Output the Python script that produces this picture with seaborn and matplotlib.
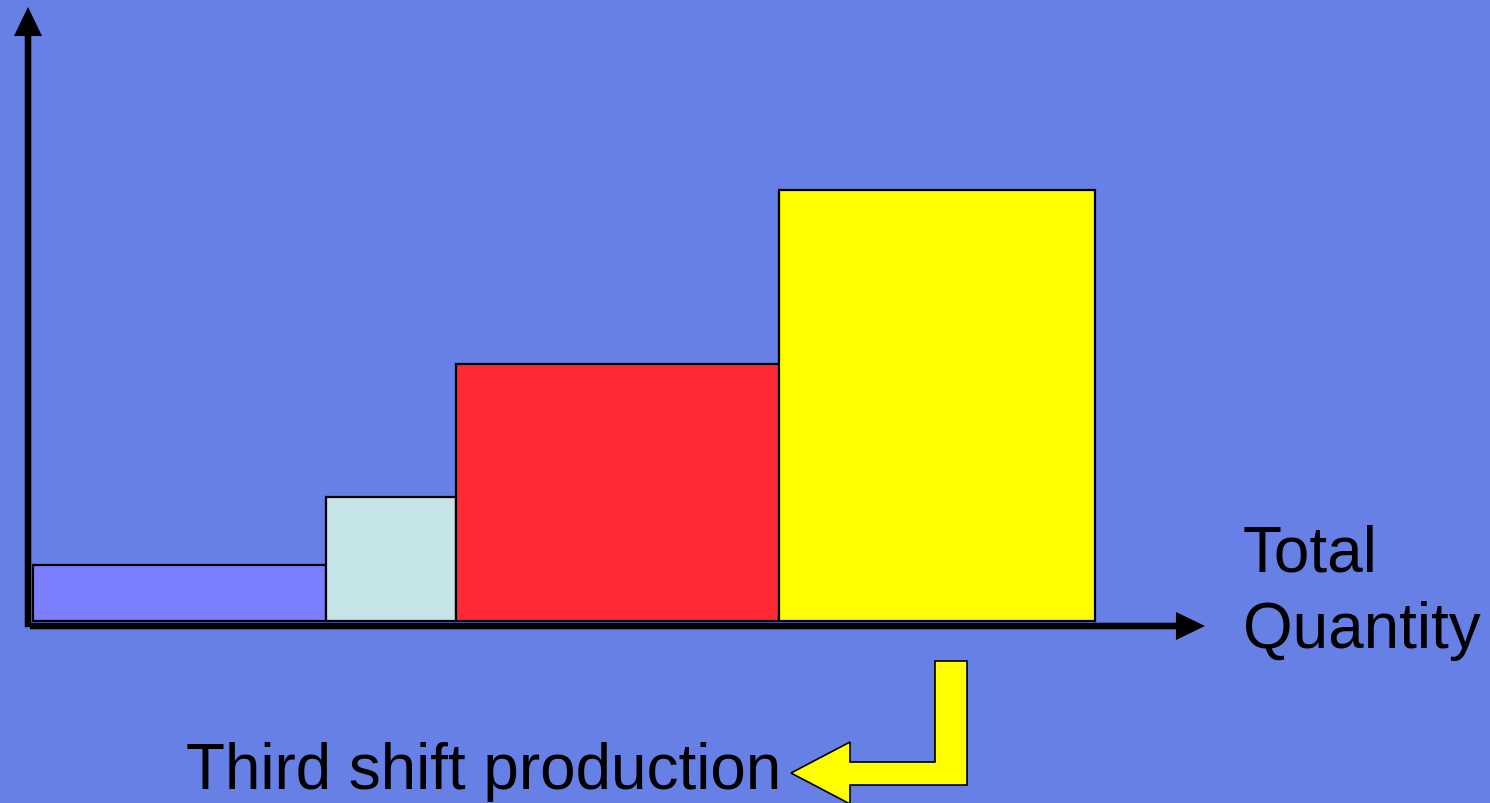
import matplotlib
matplotlib.use('Agg')
import matplotlib.pyplot as plt
import seaborn as sns
import numpy as np
import pandas as pd
from matplotlib.patches import Polygon

# Chart data: each bar's width is its quantity, height its rate
categories = ['First shift', 'Overtime', 'Second shift', 'Third shift']
widths = [2.93, 1.30, 3.23, 3.16]
heights = [0.56, 1.24, 2.57, 4.31]
bar_colors = ['#7B7FFF', '#C5E4E8', '#FF2A36', '#FFFF00']

x_label = 'Total\nQuantity'
note_text = 'Third shift production'

bg = '#6680E6'
W, H = 1490, 804

sns.set_theme(style='white')
plt.rcParams['font.family'] = ['Liberation Sans', 'DejaVu Sans']
plt.rcParams['text.color'] = 'black'

edges = [0.0] + list(np.cumsum(widths))
df = pd.DataFrame({'category': categories, 'height': heights,
                   'center': [(a + b) / 2 for a, b in zip(edges[:-1], edges[1:])]})

fig = plt.figure(figsize=(W / 100, H / 100), dpi=100)
fig.patch.set_facecolor(bg)
ax = fig.add_axes([28 / W, 177 / H, 1177 / W, 619 / H])
ax.set_facecolor(bg)

sns.histplot(data=df, x='center', weights='height', bins=edges, stat='count',
             alpha=1, edgecolor='black', linewidth=1.6, ax=ax)
for patch, c in zip(ax.patches, bar_colors):
    patch.set_facecolor(c)

ax.set_xlim(-0.05, 11.72)
ax.set_ylim(-0.05, 6.14)
ax.set_xlabel('')
ax.set_ylabel('')
ax.set_xticks([])
ax.set_yticks([])
for s in ax.spines.values():
    s.set_visible(False)

# axis arrows (filled, sharp heads)
arrow = dict(arrowstyle='simple,head_length=2.09,head_width=2.02,tail_width=0.47',
             lw=0, color='black', shrinkA=0, shrinkB=0, mutation_scale=10)
ax.annotate('', xy=(0, 1), xytext=(0, -0.002), xycoords='axes fraction',
            textcoords='axes fraction', arrowprops=arrow, annotation_clip=False)
ax.annotate('', xy=(1, 0), xytext=(0.0017, 0), xycoords='axes fraction',
            textcoords='axes fraction', arrowprops=arrow, annotation_clip=False)

# axis title on the right
lines = x_label.split('\n')
fig.text(1243 / W, 1 - 572 / H, lines[0], fontsize=46, ha='left', va='baseline',
         color='black')
fig.text(1243 / W, 1 - 648 / H, lines[1], fontsize=46, ha='left', va='baseline',
         color='black')

# note with bent arrow pointing at it
fig.text(186 / W, 1 - 789 / H, note_text, fontsize=46, ha='left', va='baseline',
         color='black')
pts = [(935, 662), (967, 662), (967, 786), (850, 786), (850, 805),
       (791, 774), (850, 743), (850, 763), (935, 763)]
pts = [(x / W, 1 - y / H) for x, y in pts]
fig.patches.append(Polygon(pts, closed=True, facecolor='#FFFF00',
                           edgecolor='black', linewidth=1.2,
                           transform=fig.transFigure, figure=fig))

fig.savefig('out.png', dpi=100, facecolor=bg)
